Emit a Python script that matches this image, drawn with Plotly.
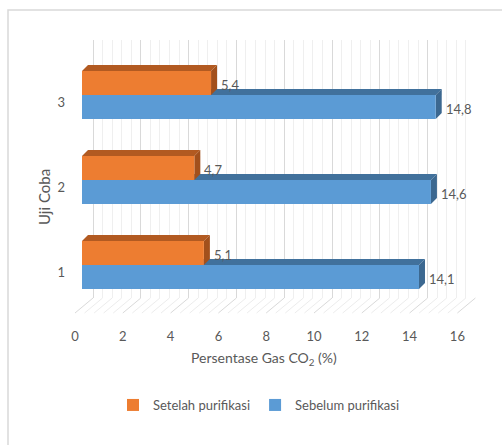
import plotly.graph_objects as go

# ---- data ----
categories = [1, 2, 3]
cat_labels = ["1", "2", "3"]
sebelum = [14.1, 14.6, 14.8]   # Sebelum purifikasi (blue)
setelah = [5.1, 4.7, 5.4]      # Setelah purifikasi (orange)
x_ticks = [0, 2, 4, 6, 8, 10, 12, 14, 16]

W, H = 502, 445
FONT = "Lato, 'Open Sans', sans-serif"
GREY = "#595959"

def px(p):
    return p / W

def py(p):
    return 1 - p / H

# pixel geometry of the pseudo-3D layout
UNIT = 23.9               # px per x unit
FRONT0 = 82               # bar front plane, x=0
BACK0 = 93                # back wall, x=0
FLOOR0 = 75               # front floor edge, x=0
TOP, BACKBOT, FRONTBOT = 40, 298, 313
XMAX = 16
YPU = 85.0                # px per category unit
y_lo = 1 - (FRONTBOT - 272) / YPU
y_hi = 3 + (102 - TOP) / YPU

BAR_H = 24 / YPU
SPLIT = 7 / YPU
DX = 6 / UNIT
DY = 6 / YPU

fig = go.Figure()
# empty trace so that the back-wall grid subplot is drawn
fig.add_trace(go.Scatter(x=[], y=[], xaxis="x", yaxis="y", showlegend=False,
                         hoverinfo="skip", mode="markers"))
fig.add_trace(go.Bar(
    name="Sebelum purifikasi", orientation="h",
    x=sebelum, y=categories, xaxis="x2", yaxis="y2",
    width=BAR_H, offset=SPLIT - BAR_H,
    marker=dict(color="#5B9BD5", line=dict(width=0)),
    hoverinfo="x+y",
))
fig.add_trace(go.Bar(
    name="Setelah purifikasi", orientation="h",
    x=setelah, y=categories, xaxis="x2", yaxis="y2",
    width=BAR_H, offset=SPLIT,
    marker=dict(color="#ED7D31", line=dict(width=0)),
    hoverinfo="x+y",
))

shapes = []
# border
shapes.append(dict(type="rect", xref="paper", yref="paper",
                   x0=px(8), x1=1.01, y0=-0.01, y1=py(10),
                   line=dict(color="#d9d9d9", width=1.5), layer="below"))
# floor diagonals
k = 0
v = 0.0
while v <= XMAX + 1e-9:
    major = abs(v / 2 - round(v / 2)) < 1e-6
    shapes.append(dict(type="line", xref="paper", yref="paper",
                       x0=px(FLOOR0 + UNIT * v), y0=py(FRONTBOT),
                       x1=px(BACK0 + UNIT * v), y1=py(BACKBOT),
                       line=dict(color="#d9d9d9" if major else "#ececec", width=1),
                       layer="below"))
    k += 1
    v = round(k * 0.4, 6)

def faces(val, y0, y1, top_col, side_col):
    top = (f"M 0,{y1} L {val},{y1} L {val+DX},{y1+DY} L {DX},{y1+DY} Z")
    side = (f"M {val},{y0} L {val},{y1} L {val+DX},{y1+DY} L {val+DX},{y0+DY} Z")
    return [dict(type="path", xref="x2", yref="y2", path=top, fillcolor=top_col,
                 line=dict(width=0), layer="below"),
            dict(type="path", xref="x2", yref="y2", path=side, fillcolor=side_col,
                 line=dict(width=0), layer="below")]

for c, vb, vo in zip(categories, sebelum, setelah):
    shapes += faces(vb, c + SPLIT - BAR_H, c + SPLIT, "#41719C", "#3C6890")
    shapes += faces(vo, c + SPLIT, c + SPLIT + BAR_H, "#B25A21", "#A2501C")

def fmt(v):
    return f"{v:.1f}".replace(".", ",")

annotations = []
for c, vb, vo in zip(categories, sebelum, setelah):
    annotations.append(dict(x=vb, y=c + SPLIT - BAR_H / 2, xref="x2", yref="y2",
                            text=fmt(vb), showarrow=False, xanchor="left",
                            yanchor="middle", xshift=8, yshift=-2,
                            font=dict(family=FONT, size=13, color=GREY)))
    annotations.append(dict(x=vo, y=c + SPLIT + BAR_H / 2, xref="x2", yref="y2",
                            text=fmt(vo), showarrow=False, xanchor="left",
                            yanchor="middle", xshift=8, yshift=-2,
                            font=dict(family=FONT, size=13, color=GREY)))
annotations.append(dict(x=px(264), y=py(370), xref="paper", yref="paper",
                        text="Persentase Gas CO<sub>2</sub> (%)", showarrow=False,
                        font=dict(family=FONT, size=14, color=GREY)))
annotations.append(dict(x=px(33), y=py(197), xref="paper", yref="paper",
                        text="Uji Coba", textangle=-90, showarrow=False,
                        font=dict(family=FONT, size=15, color=GREY)))

fig.update_layout(
    width=W, height=H, autosize=False,
    margin=dict(l=0, r=0, t=0, b=0, autoexpand=False),
    paper_bgcolor="white", plot_bgcolor="rgba(0,0,0,0)",
    barmode="overlay",
    font=dict(family=FONT, size=13, color=GREY),
    showlegend=True,
    legend=dict(orientation="h", x=px(259), xanchor="center",
                y=py(405), yanchor="middle", traceorder="reversed",
                font=dict(family=FONT, size=13, color=GREY),
                bgcolor="rgba(0,0,0,0)"),
    # back wall grid
    xaxis=dict(domain=[px(BACK0), px(BACK0 + UNIT * XMAX)], range=[0, XMAX],
               anchor="y", showgrid=True, gridcolor="#d9d9d9", gridwidth=1,
               dtick=2, tick0=0,
               minor=dict(dtick=0.4, showgrid=True, gridcolor="#efefef"),
               showticklabels=False, zeroline=True, zerolinecolor="#d9d9d9",
               zerolinewidth=1, showline=False, fixedrange=True, automargin=False),
    yaxis=dict(domain=[py(BACKBOT), py(TOP)], range=[0, 1], anchor="x",
               showgrid=False, zeroline=False, showticklabels=False,
               showline=False, fixedrange=True, automargin=False),
    # bars (front plane)
    xaxis2=dict(domain=[px(FRONT0), px(FRONT0 + UNIT * XMAX)], range=[0, XMAX],
                anchor="y2", showgrid=False, zeroline=False, showline=False,
                tickvals=x_ticks, ticktext=[str(t) for t in x_ticks],
                ticks="", ticklabelshift=-(FRONT0 - FLOOR0),
                ticklabelstandoff=14, automargin=False,
                tickfont=dict(family=FONT, size=13, color=GREY), fixedrange=True),
    yaxis2=dict(domain=[py(FRONTBOT), py(TOP)], range=[y_lo, y_hi], anchor="x2",
                showgrid=False, zeroline=False, showline=False,
                tickvals=categories, ticktext=cat_labels, ticks="",
                ticklabelstandoff=16, automargin=False,
                tickfont=dict(family=FONT, size=13, color=GREY), fixedrange=True),
    shapes=shapes,
    annotations=annotations,
)

fig.write_html("out.html")
